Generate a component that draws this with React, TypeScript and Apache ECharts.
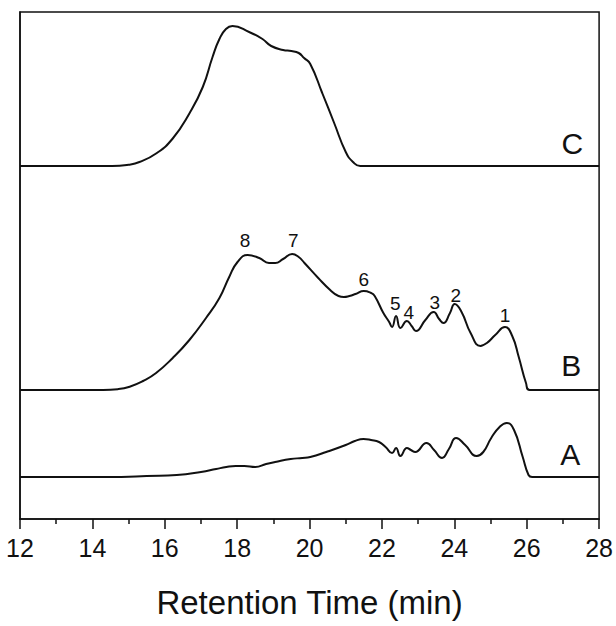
import React, { useEffect, useRef } from "react";
import * as echarts from "echarts";

// Retention time (min) and detector signal above each trace's own baseline
const timesA = [12, 14.8, 15.5, 16.33, 17.0, 17.42, 17.7, 17.96, 18.2, 18.5, 18.8, 19.05, 19.48, 19.8, 20.02, 20.46, 21.0, 21.25, 21.49, 21.7, 21.92, 22.1, 22.28, 22.39, 22.51, 22.69, 22.8, 22.92, 23.23, 23.44, 23.66, 23.85, 24.05, 24.3, 24.62, 24.8, 25.02, 25.25, 25.45, 25.65, 25.89, 26.05, 26.15, 28];
const signalA = [0, 0, 1, 2, 5, 8, 10, 11, 11, 10, 13, 15, 18, 19, 20, 25, 32, 36, 38, 37, 35, 30, 24, 29, 21, 29, 27, 25, 34, 27, 19, 28, 39, 32, 21, 25, 39, 50, 54, 47, 20, 2, 0, 0];

const timesB = [12, 14.3, 14.7, 15.03, 15.4, 15.76, 16.22, 16.68, 17.14, 17.51, 17.78, 18.01, 18.29, 18.61, 18.88, 19.05, 19.27, 19.52, 19.7, 19.86, 20.24, 20.57, 20.8, 20.95, 21.1, 21.27, 21.5, 21.7, 21.8, 22.04, 22.2, 22.28, 22.39, 22.51, 22.69, 22.82, 22.94, 23.2, 23.43, 23.58, 23.7, 23.88, 24.01, 24.2, 24.45, 24.72, 24.9, 25.13, 25.4, 25.6, 25.78, 25.98, 26.08, 28];
const signalB = [0, 0, 0.8, 3.3, 9, 17, 32, 50, 72, 92, 113, 128, 135, 132, 127, 127, 131, 136, 133, 127, 112, 100, 94, 93, 94, 96, 99, 97, 94, 77, 68, 63, 74, 62, 69, 64, 59, 70, 78, 71, 67, 77, 86, 78, 57, 44, 47, 55, 63, 54, 33, 7, 0, 0];

const timesC = [12, 14.55, 15.0, 15.3, 15.76, 16.22, 16.68, 17.05, 17.32, 17.51, 17.69, 17.87, 18.33, 18.7, 18.94, 19.27, 19.5, 19.7, 19.85, 20.02, 20.35, 20.68, 21.0, 21.2, 21.4, 28];
const signalC = [0, 0, 1.3, 4, 12.5, 27.5, 52.5, 79, 109, 127, 137, 140, 134, 127, 120, 116, 115, 113, 108, 102, 73, 43, 14, 4, 0, 0];

// vertical offsets of the stacked traces
const traceNames = ["A", "B", "C"];
const traceOffsets = [42, 129, 353];

// trace letters
const letterTimes = [27.2, 27.23, 27.26];
const letterHeights = [23, 25, 22.5];

// numbered peaks of trace B
const peakLabels = ["1", "2", "3", "4", "5", "6", "7", "8"];
const peakTimes = [25.4, 24.04, 23.46, 22.74, 22.37, 21.5, 19.55, 18.22];
const peakLabelHeights = [75, 95, 88, 78, 87, 111, 150, 150];

const xTicks = [12, 14, 16, 18, 20, 22, 24, 26, 28];

const FONT = "'Liberation Sans', Arial, sans-serif";

function build(times: number[], sig: number[], off: number) {
  return times.map((t, i) => [t, sig[i] + off]);
}

export default function App() {
  const ref = useRef<HTMLDivElement>(null);
  useEffect(() => {
    if (!ref.current) return;
    const chart = echarts.init(ref.current, null, { renderer: "svg" });
    const traces = [
      build(timesA, signalA, traceOffsets[0]),
      build(timesB, signalB, traceOffsets[1]),
      build(timesC, signalC, traceOffsets[2]),
    ];
    const lineSeries = traces.map((d, i) => ({
      type: "line",
      name: traceNames[i],
      data: d,
      smooth: 0.5,
      showSymbol: false,
      lineStyle: { color: "#111", width: 2 },
      z: 3,
    }));
    const labelStyle = (size: number) => ({
      show: true,
      position: "inside",
      formatter: "{b}",
      color: "#111",
      opacity: 1,
      fontSize: size,
      fontFamily: FONT,
    });
    chart.setOption({
      animation: false,
      grid: {
        left: 20,
        right: 15,
        top: 12,
        bottom: 107,
        show: true,
        borderColor: "#111",
        borderWidth: 1.5,
        backgroundColor: "transparent",
      },
      xAxis: {
        type: "value",
        min: xTicks[0],
        max: xTicks[xTicks.length - 1],
        interval: 2,
        splitLine: { show: false },
        axisLine: { show: true, lineStyle: { color: "#111", width: 1.5 } },
        axisTick: { show: true, inside: false, length: 10, lineStyle: { color: "#111", width: 1.5 } },
        minorTick: { show: true, splitNumber: 2, length: 5, lineStyle: { color: "#111", width: 1.5 } },
        axisLabel: { color: "#111", fontSize: 25, fontFamily: FONT, margin: 16 },
        name: "Retention Time (min)",
        nameLocation: "middle",
        nameGap: 67,
        nameTextStyle: { color: "#111", fontSize: 33, fontFamily: FONT },
      },
      yAxis: {
        type: "value",
        min: 0,
        max: 507,
        show: true,
        axisLine: { show: true, lineStyle: { color: "#111", width: 1.5 } },
        axisTick: { show: false },
        axisLabel: { show: false },
        splitLine: { show: false },
      },
      series: [
        ...lineSeries,
        {
          type: "scatter",
          symbolSize: 0,
          itemStyle: { opacity: 1 },
          data: traceNames.map((n, i) => ({
            name: n,
            value: [letterTimes[i], traceOffsets[i] + letterHeights[i]],
          })),
          label: labelStyle(30),
          silent: true,
        },
        {
          type: "scatter",
          symbolSize: 0,
          itemStyle: { opacity: 1 },
          data: peakLabels.map((n, i) => ({
            name: n,
            value: [peakTimes[i], traceOffsets[1] + peakLabelHeights[i]],
          })),
          label: labelStyle(19),
          silent: true,
        },
      ],
    });
    return () => chart.dispose();
  }, []);
  return (
    <div
      ref={ref}
      style={{ position: "fixed", left: 0, top: 0, width: 616, height: 626, background: "#fff" }}
    />
  );
}
